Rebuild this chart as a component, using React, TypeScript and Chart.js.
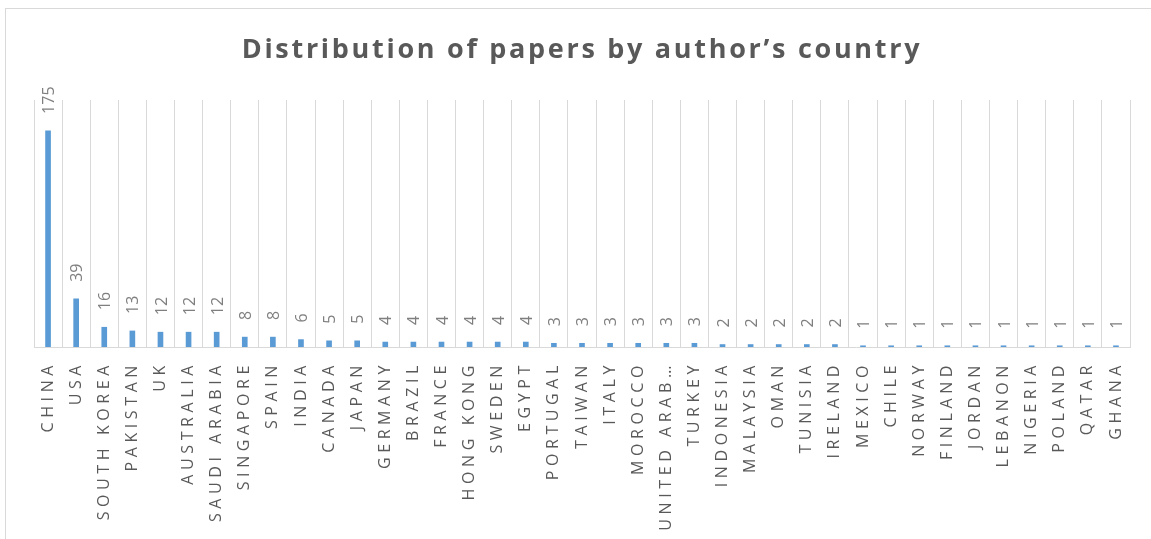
import { useEffect, useRef } from 'react';
import { Chart, registerables } from 'chart.js';

Chart.register(...registerables);

const countries = [
  'CHINA', 'USA', 'SOUTH KOREA', 'PAKISTAN', 'UK', 'AUSTRALIA', 'SAUDI ARABIA',
  'SINGAPORE', 'SPAIN', 'INDIA', 'CANADA', 'JAPAN', 'GERMANY', 'BRAZIL', 'FRANCE',
  'HONG KONG', 'SWEDEN', 'EGYPT', 'PORTUGAL', 'TAIWAN', 'ITALY', 'MOROCCO',
  'UNITED ARAB EMIRATES', 'TURKEY', 'INDONESIA', 'MALAYSIA', 'OMAN', 'TUNISIA',
  'IRELAND', 'MEXICO', 'CHILE', 'NORWAY', 'FINLAND', 'JORDAN', 'LEBANON',
  'NIGERIA', 'POLAND', 'QATAR', 'GHANA',
];

const papers = [
  175, 39, 16, 13, 12, 12, 12,
  8, 8, 6, 5, 5, 4, 4, 4,
  4, 4, 4, 3, 3, 3, 3,
  3, 3, 2, 2, 2, 2,
  2, 1, 1, 1, 1, 1, 1,
  1, 1, 1, 1,
];

const chartTitle = 'Distribution of papers by author’s country';
const valueMax = 200;

const W = 1151;
const H = 539;
const FONT = '"Open Sans", "Noto Sans", sans-serif';

// long category names are cut short on the axis
const shortLabel = (s: string) => (s.length > 12 ? s.slice(0, 11) + '…' : s);

const decorPlugin = {
  id: 'decor',
  beforeDraw(chart: any) {
    // spaced capitals on the category axis
    chart.ctx.letterSpacing = '4.6px';
  },
  afterDatasetsDraw(chart: any) {
    const ctx = chart.ctx as CanvasRenderingContext2D;
    const meta = chart.getDatasetMeta(0);
    ctx.save();
    (ctx as any).letterSpacing = '0px';
    ctx.font = `16px ${FONT}`;
    ctx.fillStyle = '#7f7f7f';
    ctx.textAlign = 'left';
    ctx.textBaseline = 'middle';
    meta.data.forEach((bar: any, i: number) => {
      ctx.save();
      ctx.translate(bar.x + 1.5, bar.y - 17);
      ctx.rotate(-Math.PI / 2);
      ctx.fillText(String(papers[i]), 0, 0);
      ctx.restore();
    });
    ctx.restore();
  },
  afterDraw(chart: any) {
    const ctx = chart.ctx as CanvasRenderingContext2D;
    ctx.save();
    (ctx as any).letterSpacing = '2.7px';
    ctx.font = `bold 27px ${FONT}`;
    ctx.fillStyle = '#595959';
    ctx.textAlign = 'center';
    ctx.textBaseline = 'alphabetic';
    ctx.fillText(chartTitle, 582, 58);
    ctx.restore();
    (ctx as any).letterSpacing = '0px';
  },
};

export default function App() {
  const canvasRef = useRef<HTMLCanvasElement | null>(null);

  useEffect(() => {
    const canvas = canvasRef.current;
    if (!canvas) return;
    const chart = new Chart(canvas, {
      type: 'bar',
      data: {
        labels: countries,
        datasets: [
          {
            data: papers,
            backgroundColor: '#5b9bd5',
            borderWidth: 0,
            barThickness: 5,
          },
        ],
      },
      options: {
        responsive: false,
        animation: false,
        devicePixelRatio: 1,
        layout: { padding: { left: 34, right: 21, top: 100, bottom: 0 } },
        plugins: {
          legend: { display: false },
          title: { display: false },
          tooltip: { enabled: false },
        },
        scales: {
          x: {
            offset: true,
            grid: {
              offset: true,
              color: '#d9d9d9',
              lineWidth: 1,
              drawTicks: false,
            },
            border: { display: true, color: '#d9d9d9', width: 1 },
            ticks: {
              autoSkip: false,
              minRotation: 90,
              maxRotation: 90,
              padding: 14,
              color: '#595959',
              font: { family: FONT, size: 16 },
              callback: (_v: any, i: number) => shortLabel(countries[i]),
            },
            afterFit: (scale: any) => {
              scale.height = H - 347;
            },
          },
          y: {
            display: false,
            min: 0,
            max: valueMax,
          },
        },
      },
      plugins: [decorPlugin],
    });
    return () => chart.destroy();
  }, []);

  return (
    <div
      style={{
        position: 'fixed',
        left: 0,
        top: 0,
        width: W,
        height: H,
        overflow: 'hidden',
        background: '#ffffff',
      }}
    >
      <div
        style={{
          position: 'absolute',
          left: 5,
          top: 8,
          width: W + 20,
          height: H + 20,
          border: '1px solid #d9d9d9',
          boxSizing: 'border-box',
        }}
      />
      <canvas
        ref={canvasRef}
        width={W}
        height={H}
        style={{ position: 'absolute', left: 0, top: 0, width: W, height: H }}
      />
    </div>
  );
}
